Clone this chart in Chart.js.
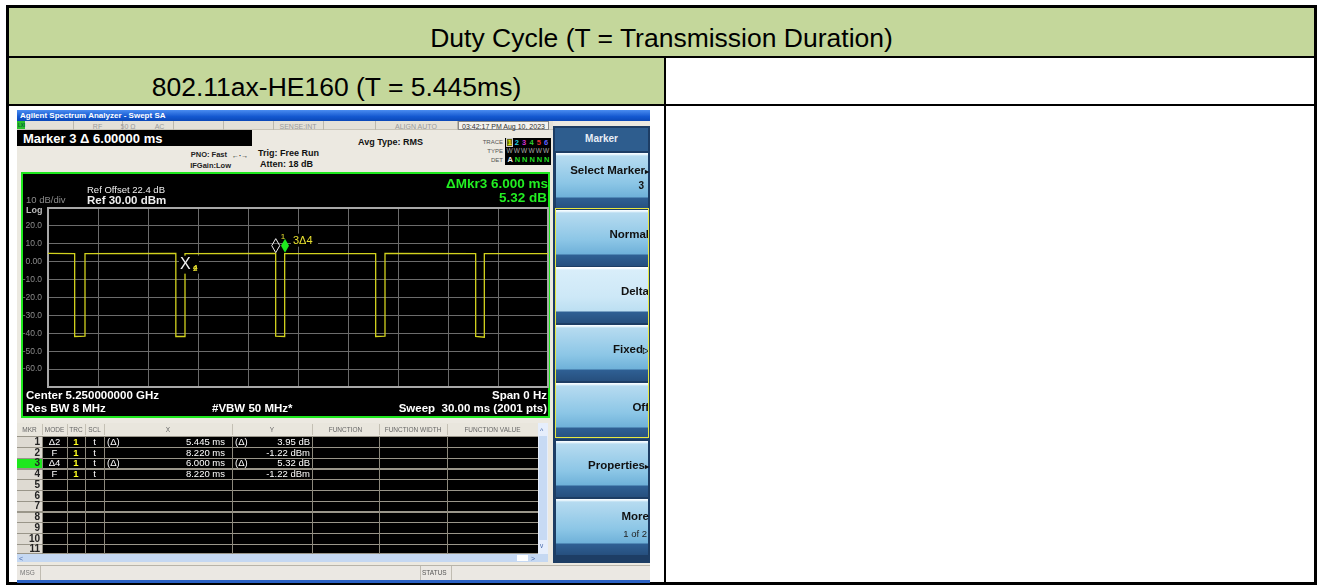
<!DOCTYPE html>
<html>
<head>
<meta charset="utf-8">
<script src="https://cdn.jsdelivr.net/npm/chart.js@4.4.0/dist/chart.umd.min.js"></script>
<style>
body{margin:0;width:1322px;height:587px;background:#fff;position:relative;overflow:hidden;font-family:"Liberation Sans",Arial,sans-serif}
.a{position:absolute;box-sizing:border-box}
.t{position:absolute;white-space:nowrap;line-height:1;transform:translateY(-50%)}
.btn{position:absolute;left:556px;width:92px;height:56px;background:linear-gradient(#f4fbff 0,#f4fbff 1px,#b6dbf0 3px,#8cc6e6 30px,#6fb1d9 44px,#2f6094 45px,#264f7e 56px)}
.btn.sel{background:linear-gradient(#ffffff 0,#ffffff 1px,#d9eefa 3px,#cde8f7 30px,#bcdff2 44px,#2f6094 45px,#264f7e 56px)}
.bt{position:absolute;right:2px;font-weight:bold;font-size:11.5px;color:#111;white-space:nowrap;line-height:1;transform:translateY(-50%)}
</style>
</head>
<body>
<!-- word table -->
<div class="a" style="left:6px;top:5px;width:1311px;height:580px;border:3px solid #000"></div>
<div class="a" style="left:9px;top:8px;width:1305px;height:48px;background:#c4d79b"></div>
<div class="a" style="left:9px;top:56px;width:1305px;height:2px;background:#000"></div>
<div class="a" style="left:9px;top:58px;width:655px;height:46px;background:#c4d79b"></div>
<div class="a" style="left:664px;top:58px;width:2px;height:524px;background:#000"></div>
<div class="a" style="left:9px;top:104px;width:1305px;height:2px;background:#000"></div>
<div class="t" style="left:9px;width:1305px;top:38px;text-align:center;font-size:26.5px;color:#000">Duty Cycle (T = Transmission Duration)</div>
<div class="t" style="left:9px;width:655px;top:87px;text-align:center;font-size:26.5px;color:#000">802.11ax-HE160 (T = 5.445ms)</div>

<!-- analyzer screen -->
<div class="a" style="left:17px;top:110px;width:633px;height:473px;background:#ece9e1"></div>
<div class="a" style="left:17px;top:110px;width:633px;height:11px;background:linear-gradient(#4a8cf0,#1458d0 60%,#0b48b8)"></div>
<div class="t" style="left:20px;top:116px;font-size:8px;font-weight:bold;color:#fff">Agilent Spectrum Analyzer - Swept SA</div>
<div class="a" style="left:17px;top:121px;width:536px;height:9px;background:#e4e1d8;border-bottom:1px solid #c8c4b8"></div>
<div class="a" style="left:17px;top:121px;width:8px;height:8px;background:#2bbf2b"></div>
<div id="stat"></div>
<div class="a" style="left:17px;top:130px;width:235px;height:16px;background:#000"></div>
<div class="t" style="left:23px;top:138px;font-size:13px;font-weight:bold;color:#fff">Marker 3 Δ 6.00000 ms</div>
<div class="t" style="right:1095px;top:155px;font-size:7.5px;font-weight:bold;color:#222">PNO: Fast</div>
<div class="t" style="left:232px;top:155px;font-size:7px;font-weight:bold;color:#222">←·→</div>
<div class="t" style="right:1091px;top:166px;font-size:7.5px;font-weight:bold;color:#222">IFGain:Low</div>
<div class="t" style="left:258px;top:153px;font-size:9px;font-weight:bold;color:#111">Trig: Free Run</div>
<div class="t" style="left:260px;top:164px;font-size:9px;font-weight:bold;color:#111">Atten: 18 dB</div>
<div class="t" style="left:358px;top:142px;font-size:9px;font-weight:bold;color:#111">Avg Type: RMS</div>
<div class="t" style="right:819px;top:142px;font-size:6px;color:#555">TRACE</div>
<div class="t" style="right:819px;top:151px;font-size:6px;color:#555">TYPE</div>
<div class="t" style="right:819px;top:160px;font-size:6px;color:#555">DET</div>
<div class="a" style="left:505px;top:138px;width:46px;height:27px;background:#000"></div>
<div id="trc"></div>

<!-- graph box -->
<div class="a" style="left:21px;top:172px;width:529px;height:246px;background:#000;border:2px solid #1ee81e"></div>
<canvas id="c" class="a" width="527" height="242" style="left:23px;top:174px;width:527px;height:242px"></canvas>
<div class="t" style="left:26px;top:200px;font-size:9.5px;color:#8c8c8c">10 dB/div</div>
<div class="t" style="left:26px;top:210px;font-size:9px;font-weight:bold;color:#bbb">Log</div>
<div class="t" style="left:87px;top:190px;font-size:9.5px;color:#eee">Ref Offset 22.4 dB</div>
<div class="t" style="left:87px;top:201px;font-size:11.5px;font-weight:bold;color:#eee">Ref 30.00 dBm</div>
<div class="t" style="right:774px;top:183.5px;font-size:13.5px;font-weight:bold;color:#22ee22">ΔMkr3 6.000 ms</div>
<div class="t" style="right:775px;top:197.5px;font-size:13.5px;font-weight:bold;color:#22ee22">5.32 dB</div>
<div class="t" style="left:26px;top:396px;font-size:11.5px;font-weight:bold;color:#fff">Center 5.250000000 GHz</div>
<div class="t" style="left:26px;top:409px;font-size:11.5px;font-weight:bold;color:#fff">Res BW 8 MHz</div>
<div class="t" style="left:212px;top:409px;font-size:11.5px;font-weight:bold;color:#fff">#VBW 50 MHz*</div>
<div class="t" style="right:775px;top:396px;font-size:11.5px;font-weight:bold;color:#fff">Span 0 Hz</div>
<div class="t" style="right:775px;top:409px;font-size:11.5px;font-weight:bold;color:#fff">Sweep&nbsp; 30.00 ms (2001 pts)</div>

<!-- marker table -->
<div id="tbl"></div>

<!-- soft keys -->
<div class="a" style="left:553px;top:126px;width:97px;height:437px;background:#1d3d64"></div>
<div class="a" style="left:555px;top:128px;width:93px;height:23px;background:#2e5d8e"></div>
<div class="t" style="left:555px;width:93px;top:139px;text-align:center;font-size:10px;font-weight:bold;color:#e8eef6">Marker</div>
<div id="keys"></div>
<div class="a" style="left:555px;top:208px;width:94px;height:230px;border:1.5px solid #e8e840"></div>

<!-- msg bar -->
<div class="a" style="left:17px;top:565px;width:633px;height:15px;background:#ebe8e3;border-top:1px solid #b8b4aa"></div>
<div class="t" style="left:20px;top:573px;font-size:6.5px;color:#777">MSG</div>
<div class="a" style="left:40px;top:566px;width:1px;height:14px;background:#c0bcb2"></div>
<div class="a" style="left:420px;top:566px;width:1px;height:14px;background:#c0bcb2"></div>
<div class="a" style="left:451px;top:566px;width:1px;height:14px;background:#c0bcb2"></div>
<div class="t" style="left:422px;top:573px;font-size:6.5px;color:#555">STATUS</div>
<div class="a" style="left:17px;top:580px;width:633px;height:3px;background:#2c62c4"></div>

<script>
'use strict';
// trace: time (ms) and level (dBm)
let sweepMs  = [0, 1.60, 1.60, 2.22, 2.22, 7.67, 7.67, 8.22, 8.22, 13.66, 13.66, 14.20, 14.20, 19.66, 19.66, 20.22, 20.22, 25.66, 25.66, 26.18, 26.18, 30];
let levelDbm = [4.6, 4.5, -41.8, -41.6, 4.5, 4.6, -41.8, -41.8, 4.5, 4.6, -41.6, -41.8, 4.5, 4.5, -41.8, -41.6, 4.6, 4.5, -41.8, -42.2, 4.5, 4.5];
let yTicks = [20, 10, 0, -10, -20, -30, -40, -50, -60];

// markers 1..4
let markerMs   = [13.665, 8.22, 14.22, 8.22];
let markerDbm  = [4.5, 4.5, 4.5, 4.5];

// marker table text
let mkrMode  = ['Δ2', 'F', 'Δ4', 'F'];
let mkrTrc   = ['1', '1', '1', '1'];
let mkrScl   = ['t', 't', 't', 't'];
let mkrXRef  = ['(Δ)', '', '(Δ)', ''];
let mkrX     = ['5.445 ms', '8.220 ms', '6.000 ms', '8.220 ms'];
let mkrYRef  = ['(Δ)', '', '(Δ)', ''];
let mkrY     = ['3.95 dB', '-1.22 dBm', '5.32 dB', '-1.22 dBm'];

function add(parent, html) {
    document.getElementById(parent).insertAdjacentHTML('beforeend', html);
}
function box(p, x, y, w, h, bg) {
    add(p, `<div class="a" style="left:${x}px;top:${y}px;width:${w}px;height:${h}px;background:${bg}"></div>`);
}
function txt(p, s, x, y, size, color, extra) {
    add(p, `<div class="t" style="left:${x}px;top:${y}px;font-size:${size}px;color:${color};${extra || ''}">${s}</div>`);
}
function rtxt(p, s, x, y, size, color, extra) {
    add(p, `<div class="t" style="right:${1322 - x}px;top:${y}px;font-size:${size}px;color:${color};${extra || ''}">${s}</div>`);
}
function ctxt(p, s, x0, x1, y, size, color, extra) {
    add(p, `<div class="t" style="left:${x0}px;width:${x1 - x0}px;text-align:center;top:${y}px;font-size:${size}px;color:${color};${extra || ''}">${s}</div>`);
}

// status row
let statSep = [73, 122, 173, 223, 273, 323, 375, 457];
for (let i = 0; i < statSep.length; i++) box('stat', statSep[i], 121, 1, 9, '#bcb8ac');
txt('stat', 'LXI', 18, 125.5, 4.5, '#063', 'font-weight:bold');
ctxt('stat', 'RF', 73, 122, 125.5, 7, '#9a9a9a');
ctxt('stat', '50 Ω', 110, 146, 125.5, 7, '#9a9a9a');
ctxt('stat', 'AC', 146, 173, 125.5, 7, '#9a9a9a');
ctxt('stat', 'SENSE:INT', 273, 323, 125.5, 7, '#9a9a9a');
ctxt('stat', 'ALIGN AUTO', 375, 457, 125.5, 7, '#9a9a9a');
add('stat', '<div class="a" style="left:458px;top:121px;width:91px;height:9px;border:1px solid #888;background:#f4f2ee"></div>');
ctxt('stat', '03:42:17 PM Aug 10, 2023', 458, 549, 125.5, 7, '#333');

// trace/type/det box
let trcCol = ['#e8e800', '#22d0e0', '#d030d0', '#30d030', '#e03030', '#6060ff'];
for (let i = 0; i < 6; i++) {
    let x = 507 + i * 7.3;
    if (i === 0) add('trc', `<div class="a" style="left:${x - 1}px;top:138px;width:7px;height:9px;border:1px solid #ccc;background:#6a6a10"></div>`);
    txt('trc', String(i + 1), x + 0.5, 142.5, 7.5, trcCol[i], 'font-weight:bold');
    txt('trc', 'W', x - 0.5, 151, 6.5, '#aaa');
    txt('trc', i === 0 ? 'A' : 'N', x + 0.5, 159.5, 7.5, i === 0 ? '#eee' : '#22dd22', 'font-weight:bold');
}

// marker table
let colX = [17, 42, 67, 85, 104, 232, 312, 379, 447, 538];
let colName = ['MKR', 'MODE', 'TRC', 'SCL', 'X', 'Y', 'FUNCTION', 'FUNCTION WIDTH', 'FUNCTION VALUE'];
box('tbl', 17, 423, 531, 13, '#e9e6dd');
for (let c = 0; c < colName.length; c++) {
    ctxt('tbl', colName[c], colX[c], colX[c + 1], 429.5, 6.5, '#666');
    if (c > 0) box('tbl', colX[c], 424, 1, 11, '#c4c0b4');
}
box('tbl', 42, 436, 496, 118, '#000');
box('tbl', 17, 436, 25, 118, '#dedad2');
for (let r = 0; r < 11; r++) {
    let top = 436 + r * 10.75;
    let mid = top + 5.8;
    box('tbl', 17, top, 521, 1.3, '#9a968a');
    if (r === 2) box('tbl', 17, top + 1.3, 25, 9.4, '#1ee81e');
    rtxt('tbl', String(r + 1), 40, mid, 10, '#222', 'font-weight:bold');
    if (r < mkrMode.length) {
        ctxt('tbl', mkrMode[r], 42, 67, mid, 9.5, '#fff');
        ctxt('tbl', mkrTrc[r], 67, 85, mid, 9.5, '#ffff20', 'font-weight:bold');
        ctxt('tbl', mkrScl[r], 85, 104, mid, 9.5, '#fff');
        txt('tbl', mkrXRef[r], 107, mid, 9.5, '#fff');
        rtxt('tbl', mkrX[r], 225, mid, 9.5, '#fff');
        txt('tbl', mkrYRef[r], 235, mid, 9.5, '#fff');
        rtxt('tbl', mkrY[r], 310, mid, 9.5, '#fff');
    }
}
box('tbl', 17, 553, 521, 1.3, '#9a968a');
for (let c = 1; c < colX.length - 1; c++) box('tbl', colX[c], 436, 1, 118, '#8c887c');
box('tbl', 538, 423, 10, 131, '#e6eefc');
box('tbl', 539, 436, 8, 104, '#c7daf4');
txt('tbl', '^', 540, 430, 7, '#4466aa');
txt('tbl', 'v', 540, 546, 6.5, '#4466aa');
box('tbl', 17, 554, 531, 8, '#c5d8f2');
box('tbl', 517, 555, 11, 6, '#fff');
txt('tbl', '&lt;', 19, 558, 7, '#4466aa');
txt('tbl', '&gt;', 531, 558, 7, '#4466aa');

// soft keys
let keyTop = [153, 210, 267, 325, 383, 441, 499];
let keyText = ['Select Marker', 'Normal', 'Delta', 'Fixed', 'Off', 'Properties', 'More'];
let keyArrow = ['▸', '', '', '▷', '', '▸', ''];
let keySub = ['3', '', '', '', '', '', '1 of 2'];
for (let i = 0; i < keyTop.length; i++) {
    let t = keyTop[i];
    add('keys', `<div class="btn${i === 2 ? ' sel' : ''}" style="top:${t}px"></div>`);
    let ty = keySub[i] ? t + 18 : t + 25;
    let lbl = keyText[i] + (keyArrow[i] ? `<span style="font-size:8px">${keyArrow[i]}</span>` : '');
    add('keys', `<div class="bt" style="right:${1322 - 649}px;top:${ty}px">${lbl}</div>`);
    if (keySub[i]) add('keys', `<div class="bt" style="right:${1322 - (i === 0 ? 644 : 647)}px;top:${ty + (i === 0 ? 15 : 17)}px;font-size:${i === 0 ? 10 : 9.5}px${i === 0 ? '' : ';font-weight:normal;color:#222'}">${keySub[i]}</div>`);
}

// chart
let markerPlugin = {
    id: 'markers',
    beforeDatasetsDraw(chart) {
        let a = chart.chartArea, ctx = chart.ctx;
        ctx.save();
        ctx.strokeStyle = '#a8a8a8';
        ctx.lineWidth = 2;
        ctx.strokeRect(a.left, a.top, a.right - a.left, a.bottom - a.top);
        ctx.restore();
    },
    afterDatasetsDraw(chart) {
        let ctx = chart.ctx, xs = chart.scales.x, ys = chart.scales.y;
        let px = markerMs.map(v => xs.getPixelForValue(v));
        let py = markerDbm.map(v => ys.getPixelForValue(v));
        function diamond(x, y, fill) {
            ctx.beginPath();
            ctx.moveTo(x, y - 15);
            ctx.lineTo(x + 4, y - 8);
            ctx.lineTo(x, y - 1);
            ctx.lineTo(x - 4, y - 8);
            ctx.closePath();
            if (fill) { ctx.fillStyle = fill; ctx.fill(); }
            else { ctx.strokeStyle = '#f0f0f0'; ctx.lineWidth = 1; ctx.stroke(); }
        }
        ctx.save();
        // marker 1 (delta, hollow)
        diamond(px[0], py[0], null);
        // marker 3 label with black back
        ctx.font = '11px "Liberation Sans", Arial';
        ctx.fillStyle = '#000';
        ctx.fillRect(px[2] + 6, py[2] - 20, 27, 13);
        ctx.fillStyle = '#e8e030';
        ctx.textBaseline = 'middle';
        ctx.fillText('3Δ4', px[2] + 8, py[2] - 13);
        ctx.font = '8px "Liberation Sans", Arial';
        ctx.fillText('1', px[0] + 5, py[0] - 17);
        // marker 3 (active, green filled)
        diamond(px[2], py[2], '#1ee81e');
        // markers 2 and 4 (reference X)
        ctx.fillStyle = '#000';
        ctx.fillRect(px[1] - 6, py[1] + 2, 20, 18);
        ctx.font = '16px "Liberation Sans", Arial';
        ctx.fillStyle = '#f0f0f0';
        ctx.fillText('X', px[1] - 5, py[1] + 11);
        ctx.font = 'bold 8px "Liberation Sans", Arial';
        ctx.fillStyle = '#e8e030';
        ctx.fillText('4', px[1] + 8, py[1] + 14);
        ctx.fillText('2', px[1] + 8, py[1] + 15);
        ctx.restore();
    }
};

let points = [];
for (let i = 0; i < sweepMs.length; i++) points.push({x: sweepMs[i], y: levelDbm[i]});

new Chart(document.getElementById('c'), {
    type: 'line',
    data: {
        datasets: [{
            data: points,
            borderColor: '#d2d21e',
            borderWidth: 1.3,
            pointRadius: 0,
            tension: 0
        }]
    },
    options: {
        responsive: false,
        animation: false,
        devicePixelRatio: 1,
        layout: {padding: {left: 0, right: 2, top: 34, bottom: 29}},
        plugins: {legend: {display: false}, tooltip: {enabled: false}},
        scales: {
            x: {
                type: 'linear', min: 0, max: 30,
                ticks: {display: false, stepSize: 3},
                grid: {color: '#6c6c6c', drawTicks: false},
                border: {display: false},
                afterFit(s) { s.height = 0; }
            },
            y: {
                min: -70, max: 30,
                afterBuildTicks(s) { s.ticks = [30].concat(yTicks, [-70]).map(v => ({value: v})); },
                ticks: {
                    color: '#8c8c8c',
                    font: {size: 8.5, family: '"Liberation Sans", Arial'},
                    padding: 6,
                    callback: v => (yTicks.indexOf(v) < 0 ? '' : (v === 0 ? '0.00' : v.toFixed(1)))
                },
                grid: {color: '#6c6c6c', drawTicks: false},
                border: {display: false},
                afterFit(s) { s.width = 25; }
            }
        }
    },
    plugins: [markerPlugin]
});
</script>
</body>
</html>
